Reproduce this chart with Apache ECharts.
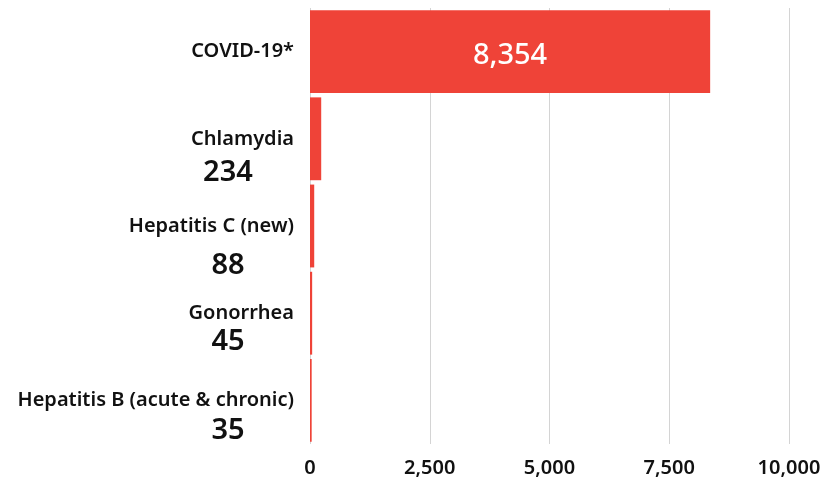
<!DOCTYPE html>
<html>
<head>
<meta charset="utf-8">
<script src="https://cdn.jsdelivr.net/npm/echarts@6/dist/echarts.min.js"></script>
<style>
  html, body { margin: 0; padding: 0; background: #fff; }
  #main { width: 820px; height: 479px; }
</style>
</head>
<body>
<div id="main"></div>
<script>
// data
var categories = ['COVID-19*', 'Chlamydia', 'Hepatitis C (new)', 'Gonorrhea', 'Hepatitis B (acute & chronic)'];
var cases = [8354, 234, 88, 45, 35];
var xTicks = [0, 2500, 5000, 7500, 10000];

// layout: how far below the category name each value sits (px)
var valueGap = [0, 31, 37, 26, 28];

var font = '"Noto Sans", sans-serif';
var fmt = function (v) { return v.toLocaleString('en-US'); };

var barData = cases.map(function (v, i) {
  if (i === 0) return v;
  return {
    value: v,
    label: {
      position: [-82, 44 + valueGap[i]],
      align: 'center',
      verticalAlign: 'middle',
      color: '#111',
      fontSize: 29,
      fontWeight: 600,
      offset: [0, 0]
    }
  };
});

var myChart = echarts.init(document.getElementById('main'));
myChart.setOption({
  animation: false,
  grid: { left: 310, right: 31, top: 8, bottom: 35, outerBoundsMode: 'none', containLabel: false },
  xAxis: {
    type: 'value',
    min: 0,
    max: 10000,
    interval: 2500,
    axisLine: { show: false },
    axisTick: { show: false },
    splitLine: { lineStyle: { color: '#d4d4d4', width: 1 } },
    axisLabel: {
      margin: 14,
      fontFamily: font,
      fontSize: 20,
      fontWeight: 600,
      color: '#111',
      formatter: function (v) { return xTicks.indexOf(v) >= 0 ? fmt(v) : ''; }
    }
  },
  yAxis: {
    type: 'category',
    inverse: true,
    data: categories,
    axisLine: { show: false },
    axisTick: { show: false },
    axisLabel: {
      margin: 16,
      fontFamily: font,
      fontSize: 20,
      fontWeight: 600,
      color: '#111'
    }
  },
  series: [{
    type: 'bar',
    data: barData,
    barCategoryGap: '5%',
    itemStyle: { color: '#ef4338' },
    label: {
      show: true,
      position: 'inside',
      fontFamily: font,
      fontSize: 29,
      fontWeight: 500,
      color: '#fff',
      offset: [0, 4],
      formatter: function (p) { return fmt(p.value); }
    }
  }]
});
</script>
</body>
</html>
